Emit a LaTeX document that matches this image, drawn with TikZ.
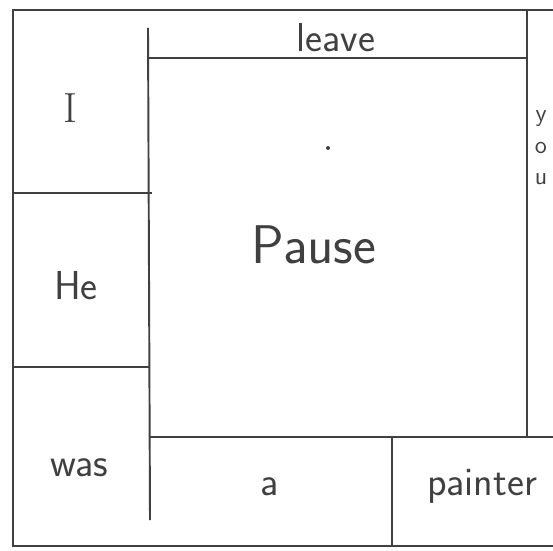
\documentclass[tikz,border=0pt]{standalone}
\usepackage{tikz}
\usetikzlibrary{positioning}
\definecolor{penGrey}{HTML}{404040}
\tikzset{
  pen/.style={draw=penGrey, line width=1.1pt},
  word/.style={font=\sffamily\fontsize{23}{26}\selectfont, text=penGrey, inner sep=0pt},
  bigword/.style={word, font=\sffamily\fontsize{31}{34}\selectfont},
  smallword/.style={word, font=\sffamily\fontsize{14}{18}\selectfont}
}

\begin{document}
\begin{tikzpicture}[x=0.02cm, y=-0.02cm]
  \useasboundingbox (0,0) rectangle (553,550);
  % outer frame
  \draw[pen] (553,10) -- (13,10) -- (13,546) -- (553,546);
  % left column
  \draw[pen] (148,28) -- (150,520);
  \draw[pen] (13,193) -- (152,193);
  \draw[pen] (13,367) -- (150,367);
  % top strip and right strip
  \draw[pen] (148,58) -- (527,58);
  \draw[pen] (527,10) -- (527,437);
  % bottom strip
  \draw[pen] (150,437) -- (553,437);
  \draw[pen] (392,437) -- (392,546);
  % centre dot
  \fill[penGrey] (328,148) circle (2);
  % words
  \node[word] (leave) at (336,38) {leave};
  \node[word, font=\rmfamily\fontsize{24}{26}\selectfont] (I) at (70,108) {I};
  \node[word] (he) at (76,286) {He};
  \node[word] (was) at (79,468) {was};
  \node[bigword] (pause) at (314,245) {Pause};
  \node[word] (a) at (270,487) {a};
  \node[word] (painter) at (482,486) {painter};
  \node[smallword, align=center] (you) at (541,148) {y\\o\\u};
\end{tikzpicture}
\end{document}
